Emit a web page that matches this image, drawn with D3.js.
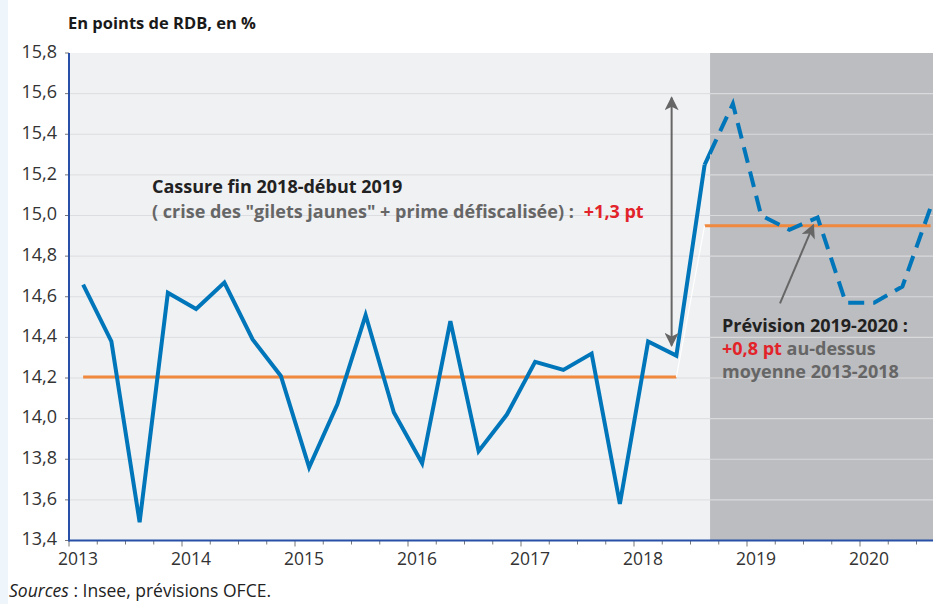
<!DOCTYPE html>
<html>
<head>
<meta charset="utf-8">
<script src="https://cdnjs.cloudflare.com/ajax/libs/d3/7.8.5/d3.min.js"></script>
<style>
	body { margin: 0; background: #fff; }
	svg { display: block; font-family: "Open Sans", sans-serif; }
</style>
</head>
<body>
<script>
// quarters (trimestres) and values, in points de RDB
var histQuarters = ["2013T1","2013T2","2013T3","2013T4","2014T1","2014T2","2014T3","2014T4",
	"2015T1","2015T2","2015T3","2015T4","2016T1","2016T2","2016T3","2016T4",
	"2017T1","2017T2","2017T3","2017T4","2018T1","2018T2","2018T3"];
var histValues = [14.66, 14.38, 13.49, 14.62, 14.54, 14.67, 14.39, 14.21,
	13.76, 14.07, 14.51, 14.03, 13.78, 14.48, 13.84, 14.02,
	14.28, 14.24, 14.32, 13.58, 14.38, 14.31, 15.25];

var fcstQuarters = ["2018T3","2018T4","2019T1","2019T2","2019T3","2019T4","2020T1","2020T2","2020T3"];
var fcstValues = [15.25, 15.55, 15.00, 14.93, 14.99, 14.57, 14.57, 14.65, 15.04];

// averages : 2013-2018 and 2019-2020
var meanFrom = ["2013T1", "2018T3"];
var meanTo = ["2018T2", "2020T3"];
var meanValues = [14.205, 14.95];

var yTicks = [13.4, 13.6, 13.8, 14.0, 14.2, 14.4, 14.6, 14.8, 15.0, 15.2, 15.4, 15.6, 15.8];
var yearLabels = [2013, 2014, 2015, 2016, 2017, 2018, 2019, 2020];
var forecastStart = 2018.673;

var W = 933, H = 604;
var blue = "#0076ba", orange = "#f0883e", grey = "#666", red = "#e2232a";

var t = function(q){
	// mid quarter, as a decimal year
	return +q.slice(0,4) + (+q.slice(5) - 0.5) / 4;
};

var x = d3.scaleLinear().domain([2013, 2021]).range([69, 69 + 8 * 113]);
var y = d3.scaleLinear().domain([13.4, 15.8]).range([540.5, 53]);
var fmt = function(d){ return d3.format(".1f")(d).replace(".", ","); };

var svg = d3.select("body").append("svg")
	.attr("width", W)
	.attr("height", H);

var defs = svg.append("defs");
defs.append("clipPath").attr("id", "clipHist").append("rect")
	.attr("x", 0).attr("y", 0).attr("width", x(forecastStart)).attr("height", H);
defs.append("clipPath").attr("id", "clipFcst").append("rect")
	.attr("x", x(forecastStart)).attr("y", 0).attr("width", W).attr("height", H);
defs.append("marker")
	.attr("id", "arrowEnd")
	.attr("viewBox", "0 0 10 10")
	.attr("refX", 9).attr("refY", 5)
	.attr("markerWidth", 7.5).attr("markerHeight", 7)
	.attr("markerUnits", "strokeWidth")
	.attr("orient", "auto-start-reverse")
	.append("path").attr("d", "M0,0 L10,5 L0,10 L2.5,5 Z").attr("fill", grey);

// light strip on the left edge
svg.append("rect").attr("x", 0).attr("y", 0).attr("width", 8).attr("height", H).attr("fill", "#eef6fb");

// plot background + forecast zone
svg.append("rect")
	.attr("x", x(2013)).attr("y", y(15.8))
	.attr("width", W - x(2013)).attr("height", y(13.4) - y(15.8))
	.attr("fill", "#f0f1f3");
svg.append("rect")
	.attr("x", x(forecastStart)).attr("y", y(15.8))
	.attr("width", W - x(forecastStart)).attr("height", y(13.4) - y(15.8))
	.attr("fill", "#bcbdc0");

// grid
svg.append("g").selectAll("line").data(yTicks.slice(1, -1)).enter().append("line")
	.attr("x1", x(2013)).attr("x2", x(forecastStart))
	.attr("y1", function(d){ return y(d); }).attr("y2", function(d){ return y(d); })
	.attr("stroke", "#dcdde0").attr("stroke-width", 1);
svg.append("g").selectAll("line").data(yTicks.slice(1, -1)).enter().append("line")
	.attr("x1", x(forecastStart)).attr("x2", W)
	.attr("y1", function(d){ return y(d); }).attr("y2", function(d){ return y(d); })
	.attr("stroke", "#d9dadc").attr("stroke-width", 1.2);

// y axis
var yAxis = svg.append("g");
yAxis.selectAll("line.tk").data(yTicks).enter().append("line")
	.attr("x1", x(2013) - 4).attr("x2", x(2013))
	.attr("y1", function(d){ return y(d); }).attr("y2", function(d){ return y(d); })
	.attr("stroke", "#777").attr("stroke-width", 1);
yAxis.selectAll("text").data(yTicks).enter().append("text")
	.attr("x", 57).attr("y", function(d){ return y(d); })
	.attr("dy", "0.27em")
	.attr("text-anchor", "end")
	.attr("font-size", 18).attr("fill", "#333")
	.text(fmt);

// x axis
var xAxis = svg.append("g");
xAxis.selectAll("line").data(d3.range(2013, 2021, 0.25)).enter().append("line")
	.attr("x1", function(d){ return x(d); }).attr("x2", function(d){ return x(d); })
	.attr("y1", y(13.4)).attr("y2", function(d){ return y(13.4) + (d % 1 === 0 ? 6 : 4); })
	.attr("stroke", "#777").attr("stroke-width", 1);
xAxis.selectAll("text").data(yearLabels).enter().append("text")
	.attr("x", function(d){ return x(d) + 9; }).attr("y", 565)
	.attr("text-anchor", "middle")
	.attr("font-size", 17.5).attr("fill", "#333")
	.text(function(d){ return d; });

svg.append("line")
	.attr("x1", x(2013)).attr("x2", x(2013)).attr("y1", y(15.8)).attr("y2", y(13.4) + 1)
	.attr("stroke", "#2850a8").attr("stroke-width", 2);
svg.append("line")
	.attr("x1", x(2013)).attr("x2", W).attr("y1", y(13.4)).attr("y2", y(13.4))
	.attr("stroke", "#2850a8").attr("stroke-width", 2);

// averages
svg.append("g").selectAll("line").data(meanValues).enter().append("line")
	.attr("x1", function(d, i){ return x(t(meanFrom[i])); })
	.attr("x2", function(d, i){ return x(t(meanTo[i])); })
	.attr("y1", function(d){ return y(d); }).attr("y2", function(d){ return y(d); })
	.attr("stroke", orange).attr("stroke-width", 3);
svg.append("line")
	.attr("x1", x(t(meanTo[0]))).attr("y1", y(meanValues[0]))
	.attr("x2", x(t(meanFrom[1]))).attr("y2", y(meanValues[1]))
	.attr("stroke", "#fff").attr("stroke-width", 1.2);

// series
var line = d3.line()
	.x(function(d){ return x(t(d.q)); })
	.y(function(d){ return y(d.v); });
var hist = histQuarters.map(function(q, i){ return {q: q, v: histValues[i]}; });
var fcst = fcstQuarters.map(function(q, i){ return {q: q, v: fcstValues[i]}; });

svg.append("path").datum(hist)
	.attr("d", line).attr("fill", "none")
	.attr("stroke", blue).attr("stroke-width", 4).attr("stroke-linejoin", "miter");
svg.append("path").datum(fcst)
	.attr("d", line).attr("fill", "none").attr("clip-path", "url(#clipHist)")
	.attr("stroke", blue).attr("stroke-width", 4);
svg.append("path").datum(fcst)
	.attr("d", line).attr("fill", "none").attr("clip-path", "url(#clipFcst)")
	.attr("stroke", blue).attr("stroke-width", 4)
	.attr("stroke-dasharray", "16,9").attr("stroke-dashoffset", -12);

// arrows
svg.append("line")
	.attr("x1", x(2018.333)).attr("x2", x(2018.333))
	.attr("y1", y(14.36)).attr("y2", y(15.58))
	.attr("stroke", grey).attr("stroke-width", 2)
	.attr("marker-start", "url(#arrowEnd)").attr("marker-end", "url(#arrowEnd)");
svg.append("line")
	.attr("x1", x(2019.292)).attr("y1", y(14.567))
	.attr("x2", x(2019.587)).attr("y2", y(14.953))
	.attr("stroke", grey).attr("stroke-width", 2)
	.attr("marker-end", "url(#arrowEnd)");

// texts
svg.append("text").attr("x", 68).attr("y", 29)
	.attr("font-size", 16.5).attr("font-weight", "bold").attr("fill", "#1a1a1a")
	.text("En points de RDB, en %");

var a1 = svg.append("text").attr("font-size", 18).attr("font-weight", "bold");
a1.append("tspan").attr("x", 152).attr("y", 193).attr("fill", "#222").text("Cassure fin 2018-début 2019");
a1.append("tspan").attr("x", 152).attr("y", 218).attr("fill", grey)
	.text("( crise des \"gilets jaunes\" + prime défiscalisée) :");
a1.append("tspan").attr("fill", red).attr("dx", 10).text("+1,3 pt");

var a2 = svg.append("text").attr("font-size", 18).attr("font-weight", "bold");
a2.append("tspan").attr("x", 722).attr("y", 332).attr("fill", "#222").text("Prévision 2019-2020 :");
a2.append("tspan").attr("x", 722).attr("y", 355).attr("fill", red).text("+0,8 pt");
a2.append("tspan").attr("fill", grey).text(" au-dessus");
a2.append("tspan").attr("x", 722).attr("y", 378).attr("fill", grey).text("moyenne 2013-2018");

var src = svg.append("text").attr("x", 9).attr("y", 597).attr("font-size", 17.5).attr("fill", "#222");
src.append("tspan").attr("font-style", "italic").text("Sources");
src.append("tspan").text(" : Insee, prévisions OFCE.");
</script>
</body>
</html>
